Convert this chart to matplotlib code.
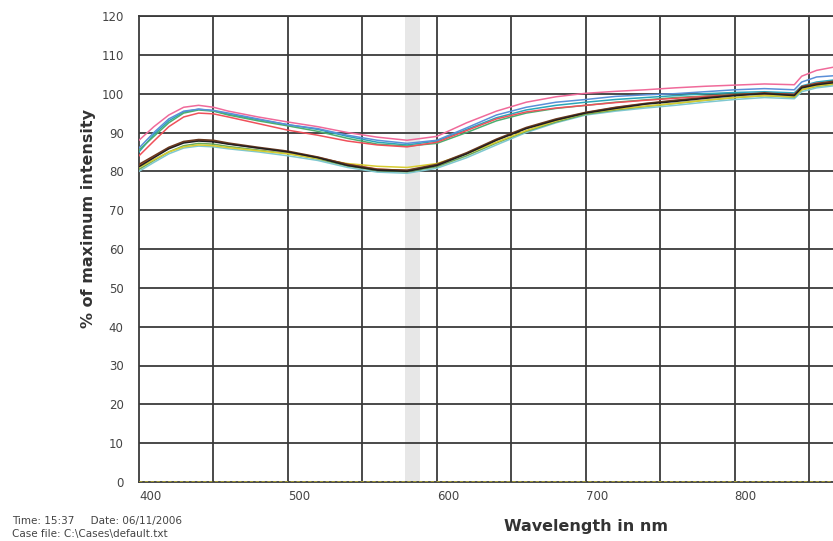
import matplotlib
matplotlib.use("Agg")
import matplotlib.pyplot as plt

wavelengths = [400, 410, 420, 430, 440, 450, 460, 480, 500, 520, 540, 560, 580, 600, 620, 640, 660, 680, 700,
               720, 740, 760, 780, 800, 820, 840, 845, 855, 866]

pink = [88, 91.5, 94.5, 96.5, 97, 96.5, 95.5, 94, 92.7, 91.5, 90, 88.8, 88, 89, 92.5, 95.5, 97.8, 99.2, 100.1,
        100.6, 101, 101.5, 101.9, 102.2, 102.5, 102.3, 104.5, 106, 106.8]
blue = [86, 90, 93.5, 95.5, 96, 95.7, 95, 93.5, 92, 91, 89.3, 88, 87.2, 88, 91.2, 94.5, 96.5, 97.8, 98.5,
        99.3, 99.7, 100, 100.5, 101, 101.3, 101, 103, 104.3, 104.6]
teal = [85, 89.5, 93, 95.3, 96, 95.6, 94.7, 93.3, 92, 90.8, 89, 87.5, 86.8, 87.8, 90.8, 93.8, 95.8, 97, 97.8,
        98.5, 99, 99.5, 100, 100.3, 100.5, 100.2, 102, 103, 103.5]
red_up = [84, 87.8, 91.5, 94, 95, 94.8, 94, 92.3, 90.6, 89.3, 87.8, 86.8, 86.3, 87.5, 90.5, 93.5, 95.3, 96.3, 97,
          97.7, 98.3, 98.8, 99.3, 99.7, 100, 99.8, 101.8, 102.7, 103]
green_up = [85.5, 89, 92.5, 95, 95.8, 95.5, 94.5, 93, 91.7, 90.3, 88.5, 87, 86.5, 87.2, 90, 93, 95, 96.2, 97,
            97.8, 98.4, 99, 99.4, 99.8, 100, 99.6, 101.5, 102.5, 102.8]
black = [81.2, 83.5, 85.8, 87.3, 87.8, 87.6, 87, 86, 85, 83.5, 81.5, 80.3, 80, 81.5, 84.5, 88, 91, 93.2, 95,
         96.2, 97.3, 98, 98.8, 99.5, 100, 99.5, 101.5, 102.3, 102.8]
brown = [81.8, 84, 86.2, 87.7, 88.2, 88, 87.3, 86.2, 85.2, 83.7, 81.8, 80.5, 80.3, 81.8, 84.8, 88.3, 91.3, 93.5, 95.2,
         96.5, 97.5, 98.3, 99, 99.7, 100.2, 99.7, 101.8, 102.6, 103.2]
yellow = [81, 83, 85, 86.3, 86.8, 86.6, 86.1, 85.3, 84.5, 83.3, 82, 81.3, 81, 82, 84.5, 87.5, 90.5, 93, 95,
          96, 96.8, 97.5, 98.3, 99, 99.5, 99.2, 101, 102, 102.5]
cyan_low = [80, 82.3, 84.5, 86, 86.5, 86.3, 85.8, 85, 84, 82.8, 81, 79.8, 79.5, 80.8, 83.5, 86.8, 90, 92.5, 94.5,
            95.5, 96.3, 97, 97.8, 98.5, 99, 98.7, 100.5, 101.5, 102]
red_low = [81.5, 83.8, 86, 87.5, 88, 87.8, 87.1, 86, 85, 83.6, 81.8, 80.6, 80.2, 81.6, 84.6, 88.1, 91.1, 93.3, 95.1,
           96.4, 97.4, 98.2, 98.9, 99.6, 100.1, 99.6, 101.6, 102.4, 103]
green_low = [80.5, 82.8, 85, 86.6, 87.2, 87, 86.4, 85.5, 84.6, 83.2, 81.4, 80.2, 79.9, 81.2, 84, 87.3, 90.3, 92.7, 94.7,
             95.8, 96.7, 97.5, 98.3, 99, 99.5, 99.1, 101, 101.9, 102.4]
baseline = [0] * len(wavelengths)

series = [
    (teal, "#2aa6b8"), (green_up, "#4caf70"), (red_up, "#f0505a"), (blue, "#5a8fd8"), (pink, "#f06a9a"),
    (cyan_low, "#7fc8d0"), (green_low, "#6aaa5a"), (yellow, "#d8cc30"), (red_low, "#c8503c"),
    (brown, "#6a3a20"), (black, "#202020"),
]

yticks = list(range(0, 121, 10))
xticks = [400, 500, 600, 700, 800]

fig = plt.figure(figsize=(8.33, 5.41), dpi=100)
ax = fig.add_axes([139 / 833, 59 / 541, 1 - 139 / 833, 466 / 541])
ax.set_xlim(400, 866)
ax.set_ylim(0, 120)

ax.axvspan(578.5, 588.5, color="#d8d8d8", alpha=0.6, lw=0, zorder=0)

for v in range(450, 866, 50):
    ax.axvline(v, color="#3a3a3a", lw=1.3, zorder=1)
for v in yticks[1:]:
    ax.axhline(v, color="#3a3a3a", lw=1.3, zorder=1)

for vals, c in series:
    ax.plot(wavelengths, vals, color=c, lw=1.1, zorder=3)
ax.plot(wavelengths, baseline, color="#b0a830", lw=1.2, ls=(0, (2, 1.5)), zorder=3)

for s in ["left", "bottom", "top"]:
    ax.spines[s].set_color("#3a3a3a")
    ax.spines[s].set_linewidth(1.3)
ax.spines["right"].set_visible(False)

ax.set_yticks(yticks)
ax.set_yticklabels([str(t) for t in yticks], fontsize=8.5, color="#444444")
ax.set_xticks(xticks)
ax.set_xticklabels([str(t) for t in xticks], fontsize=8.5, color="#444444", ha="left")
ax.tick_params(length=0, pad=6)
ax.tick_params(axis="y", pad=11)

fig.text(88 / 833, 1 - 218 / 541, "% of maximum intensity", rotation=90, ha="center", va="center",
         fontsize=11.5, fontweight="bold", color="#333333")
fig.text(586 / 833, 1 - 527 / 541, "Wavelength in nm", ha="center", va="center",
         fontsize=11.5, fontweight="bold", color="#333333")
fig.text(12 / 833, 1 - 521 / 541, "Time: 15:37     Date: 06/11/2006", ha="left", va="center",
         fontsize=7.5, color="#444444")
fig.text(12 / 833, 1 - 534 / 541, "Case file: C:\\Cases\\default.txt", ha="left", va="center",
         fontsize=7.5, color="#444444")

fig.savefig("out.png", dpi=100)
